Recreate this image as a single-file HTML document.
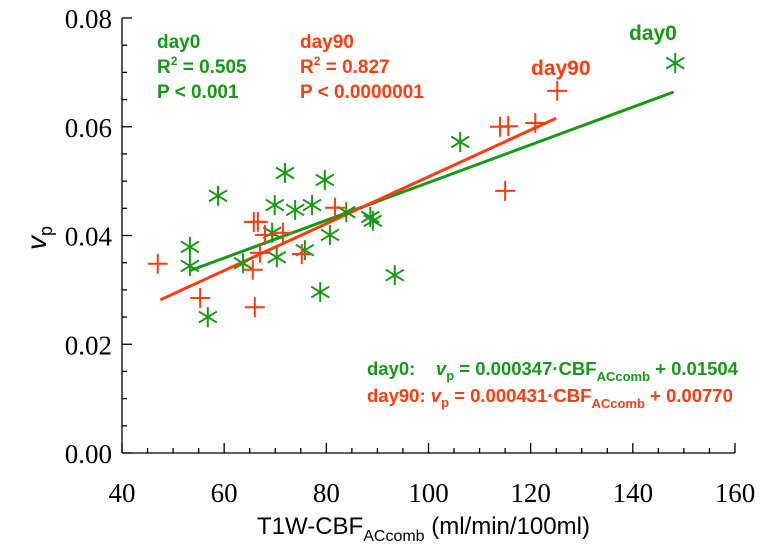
<!DOCTYPE html>
<html><head><meta charset="utf-8"><style>
body{margin:0;background:#fff;width:766px;height:550px;overflow:hidden}
svg text{font-family:"Liberation Sans",Arial,sans-serif}
</style></head><body>
<svg id="c" width="766" height="550" viewBox="0 0 766 550" xmlns="http://www.w3.org/2000/svg"></svg>
<script>
const xTicks=[40,60,80,100,120,140,160];
const yTicks=[0,0.02,0.04,0.06,0.08];
const yTickLabels=["0.00","0.02","0.04","0.06","0.08"];
const day0X=[148.3,106.2,71.9,79.7,58.8,69.9,73.9,77.2,83.9,88.6,89.1,80.7,69.4,53.3,53.3,63.7,70.3,75.8,93.4,78.8,56.8];
const day0Y=[0.0717,0.0572,0.0515,0.0502,0.0473,0.0456,0.0447,0.0456,0.0443,0.0434,0.0427,0.0401,0.0405,0.0379,0.0344,0.0349,0.0360,0.0373,0.0327,0.0296,0.0250];
const day90X=[125.2,114.0,115.6,120.9,115.0,81.7,65.8,66.6,71.5,68.0,67.0,75.2,65.6,47.0,55.3,66.0];
const day90Y=[0.0666,0.0600,0.0601,0.0607,0.0482,0.0451,0.0425,0.0425,0.0405,0.0401,0.0368,0.0366,0.0337,0.0348,0.0285,0.0268];
const fit0=[0.000347,0.01504,53.3,148];
const fit90=[0.000431,0.00770,47.5,125];
const G="#169a16",R="#ff3c10";
const X0=122,X1=735,Y0=453,Y1=18;
const sx=v=>X0+(v-40)/(160-40)*(X1-X0);
const sy=v=>Y0-(v/0.08)*(Y0-Y1);
const svg=document.getElementById('c');
const NS="http://www.w3.org/2000/svg";
function mk(t,a,p){const e=document.createElementNS(NS,t);for(const k in a)e.setAttribute(k,a[k]);(p||svg).appendChild(e);return e;}
const ax=mk('g',{stroke:'#000','stroke-width':1.3});


mk('line',{x1:X0,y1:Y0,x2:X1,y2:Y0},ax);
mk('line',{x1:X0,y1:Y0,x2:X0,y2:Y1},ax);
for(let v=40;v<=160;v+=5){const x=sx(v);const maj=(v%20===0);mk('line',{x1:x,y1:Y0,x2:x,y2:Y0-(maj?10:5)},ax);}
for(let i=0;i<=16;i++){const v=i*0.005;const y=sy(v);const maj=(i%4===0);mk('line',{x1:X0,y1:y,x2:X0+(maj?10:5),y2:y},ax);}
xTicks.forEach(v=>{const t=mk('text',{x:sx(v),y:502,'text-anchor':'middle','font-size':27,style:'font-family:"Liberation Serif",serif'});t.textContent=v;

});
yTicks.forEach((v,i)=>{const t=mk('text',{x:112,y:sy(v)+10,'text-anchor':'end','font-size':27,style:'font-family:"Liberation Serif",serif'});t.textContent=yTickLabels[i];

});
[[fit0,G,'fit-line-day0'],[fit90,R,'fit-line-day90']].forEach(([f,c,n])=>{const l=mk('line',{x1:sx(f[2]),y1:sy(f[0]*f[2]+f[1]),x2:sx(f[3]),y2:sy(f[0]*f[3]+f[1]),stroke:c,'stroke-width':3});

});
day0X.forEach((xv,i)=>{const x=sx(xv),y=sy(day0Y[i]),r=10;const g=mk('g',{stroke:G,'stroke-width':2});


mk('line',{x1:x,y1:y-r,x2:x,y2:y+r},g);mk('line',{x1:x-r*0.9,y1:y-r*0.55,x2:x+r*0.9,y2:y+r*0.55},g);mk('line',{x1:x-r*0.9,y1:y+r*0.55,x2:x+r*0.9,y2:y-r*0.55},g);});
day90X.forEach((xv,i)=>{const x=sx(xv),y=sy(day90Y[i]),r=10;const g=mk('g',{stroke:R,'stroke-width':2});


mk('line',{x1:x-r,y1:y,x2:x+r,y2:y},g);mk('line',{x1:x,y1:y-r,x2:x,y2:y+r},g);});
</script>
<svg style="position:absolute;left:0;top:0" width="766" height="550">
<g font-family="Liberation Sans, Arial, sans-serif" font-weight="bold" font-size="19">
<text x="157" y="48" fill="#169a16">day0</text>
<text x="157" y="73" fill="#169a16">R<tspan font-size="12" dy="-8">2</tspan><tspan dy="8"> = 0.505</tspan></text>
<text x="157" y="98" fill="#169a16">P &lt; 0.001</text>
<text x="300" y="48" fill="#ff3c10">day90</text>
<text x="300" y="73" fill="#ff3c10">R<tspan font-size="12" dy="-8">2</tspan><tspan dy="8"> = 0.827</tspan></text>
<text x="300" y="98" fill="#ff3c10">P &lt; 0.0000001</text>
<text x="629" y="40" fill="#169a16" font-size="21">day0</text>
<text x="531" y="75" fill="#ff3c10" font-size="21">day90</text>
<text x="367" y="375" fill="#169a16" font-size="18.5" xml:space="preserve">day0:    <tspan font-style="italic">v</tspan><tspan font-size="13" dy="5">p</tspan><tspan dy="-5"> = 0.000347·CBF</tspan><tspan font-size="13" dy="6">ACcomb</tspan><tspan dy="-6"> + 0.01504</tspan></text>
<text x="367" y="402" fill="#ff3c10" font-size="18.5">day90: <tspan font-style="italic">v</tspan><tspan font-size="13" dy="5">p</tspan><tspan dy="-5"> = 0.000431·CBF</tspan><tspan font-size="13" dy="6">ACcomb</tspan><tspan dy="-6"> + 0.00770</tspan></text>
</g>
<text x="257" y="534" font-family="Liberation Sans, Arial, sans-serif" font-size="24">T1W-CBF<tspan font-size="16" dy="7">ACcomb</tspan><tspan dy="-7"> (ml/min/100ml)</tspan></text>
<text transform="translate(46,250) rotate(-90)" font-family="Liberation Serif, serif" font-size="28" font-style="italic">v<tspan font-size="18" dy="6" font-style="normal">p</tspan></text>
</svg>
</body></html>
